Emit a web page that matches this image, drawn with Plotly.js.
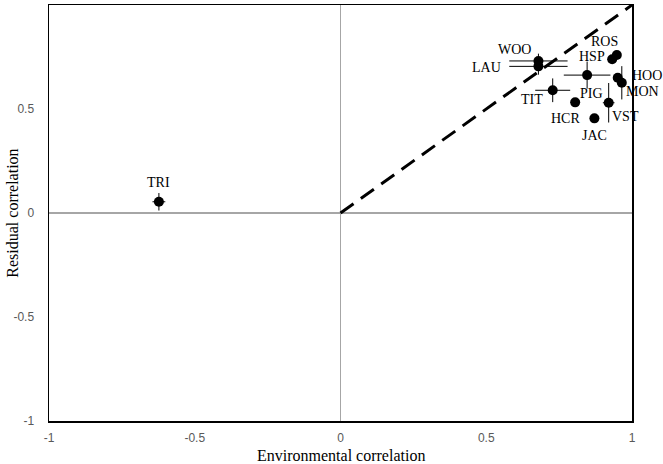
<!DOCTYPE html>
<html>
<head>
<meta charset="utf-8">
<script src="https://cdn.plot.ly/plotly-3.0.1.min.js"></script>
<style>html,body{margin:0;padding:0;background:#fff;}#chart{width:663px;height:464px;}</style>
</head>
<body>
<div id="chart"></div>
<script>
// Data
var labels = ["TRI", "WOO", "LAU", "ROS", "HSP", "PIG", "HOO", "MON", "TIT", "HCR", "VST", "JAC"];
var envCorr = [-0.623, 0.679, 0.679, 0.948, 0.932, 0.846, 0.951, 0.965, 0.728, 0.805, 0.920, 0.871];
var resCorr = [0.054, 0.731, 0.705, 0.760, 0.739, 0.663, 0.650, 0.626, 0.590, 0.532, 0.530, 0.455];
var envErr  = [0.022, 0.100, 0.100, 0.010, 0.010, 0.080, 0.010, 0.010, 0.060, 0.012, 0.020, 0.010];
var resErr  = [0.042, 0.035, 0.040, 0.010, 0.010, 0.065, 0.010, 0.080, 0.057, 0.012, 0.095, 0.010];
var refLineX = [0, 1];
var refLineY = [0, 1];
var tickVals = [-1, -0.5, 0, 0.5, 1];
var tickText = ["-1", "-0.5", "0", "0.5", "1"];
var xTitle = "Environmental correlation";
var yTitle = "Residual correlation";

// label offsets (pixels) for the point labels
var labelOffsets = {
  TRI: [0, -19], WOO: [-24, -11], LAU: [-52, 1], ROS: [-12, -13], HSP: [-20, -3],
  PIG: [4, 18], HOO: [29, -2], MON: [21, 9], TIT: [-21, 9], HCR: [-10, 16],
  VST: [17, 14], JAC: [0, 17]
};

var traces = [
  {
    x: refLineX, y: refLineY, type: 'scatter', mode: 'lines',
    line: {color: '#000', width: 3, dash: '16px,9px'},
    hoverinfo: 'skip', showlegend: false
  },
  {
    x: envCorr, y: resCorr, type: 'scatter', mode: 'markers',
    marker: {color: '#000', size: 10},
    error_x: {type: 'data', array: envErr, visible: true, color: '#000', thickness: 1, width: 0},
    error_y: {type: 'data', array: resErr, visible: true, color: '#000', thickness: 1, width: 0},
    text: labels, showlegend: false
  }
];

var serif = '"Liberation Serif", "Times New Roman", serif';
var annotations = labels.map(function (lab, i) {
  var off = labelOffsets[lab];
  return {
    x: envCorr[i], y: resCorr[i], xref: 'x', yref: 'y',
    text: lab, showarrow: true, arrowcolor: 'rgba(0,0,0,0)', arrowwidth: 0.1,
    ax: off[0], ay: off[1], xanchor: 'center', yanchor: 'middle',
    font: {family: serif, size: 14, color: '#000'}
  };
});
var titleFont = {family: serif, size: 16, color: '#000'};
annotations.push({
  xref: 'paper', yref: 'paper', x: 0.5, y: -0.082, xanchor: 'center', yanchor: 'middle',
  text: xTitle, showarrow: false, font: titleFont, borderpad: 0
});
annotations.push({
  xref: 'paper', yref: 'paper', x: -0.064, y: 0.5, xanchor: 'center', yanchor: 'middle',
  text: yTitle, showarrow: false, textangle: -90, font: titleFont, borderpad: 0
});

var tickFont = {family: '"Liberation Sans", Arial, sans-serif', size: 12, color: '#595959'};

var layout = {
  width: 663, height: 464,
  margin: {l: 49, r: 31, t: 5, b: 43, pad: 0},
  paper_bgcolor: '#fff', plot_bgcolor: '#fff',
  showlegend: false,
  xaxis: {
    range: [-1, 1], tickvals: tickVals, ticktext: tickText,
    showgrid: false, zeroline: true, zerolinecolor: '#a6a6a6', zerolinewidth: 1.2,
    showline: true, linecolor: '#000', linewidth: 1.5, mirror: true,
    ticks: '', tickfont: tickFont, ticklabelstandoff: 5,
    automargin: false, fixedrange: true
  },
  yaxis: {
    range: [-1, 1], tickvals: tickVals, ticktext: tickText,
    showgrid: false, zeroline: true, zerolinecolor: '#a6a6a6', zerolinewidth: 1.2,
    showline: true, linecolor: '#000', linewidth: 1.5, mirror: true,
    ticks: '', tickfont: tickFont, ticklabelstandoff: 11,
    automargin: false, fixedrange: true
  },
  annotations: annotations
};

Plotly.newPlot('chart', traces, layout, {displayModeBar: false, staticPlot: true});
</script>
</body>
</html>
